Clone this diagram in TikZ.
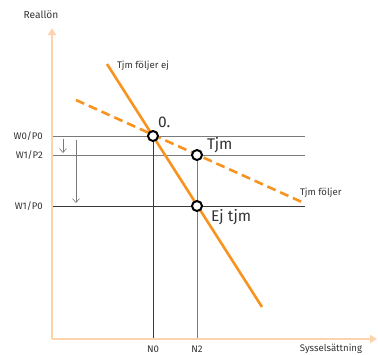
\documentclass[tikz,border=0pt]{standalone}
\usepackage{fontspec}
\setmainfont{Fira Sans}
\usetikzlibrary{arrows.meta}
\definecolor{cCurve}{HTML}{F7931E}
\definecolor{cAxis}{HTML}{FDD3AE}
\definecolor{cGrid}{HTML}{7A7A7A}
\definecolor{cDark}{HTML}{3A3A3A}
\definecolor{cText}{HTML}{333333}
\tikzset{
  axisarr/.style={draw=cAxis,line width=2pt,-{Triangle[length=7pt,width=8pt]}},
  gline/.style={draw=cGrid,line width=0.8pt},
  dline/.style={draw=cDark,line width=0.8pt},
  shiftarr/.style={draw=cGrid,line width=0.6pt,-{Straight Barb[length=4pt,width=7pt]}},
  curve/.style={draw=cCurve,line width=2.6pt},
  dcurve/.style={curve,dash pattern=on 9pt off 5pt},
  ptnode/.style={circle,draw=black,fill=white,line width=2pt,minimum size=10pt,inner sep=0pt},
  small/.style={font=\fontsize{9.6}{11}\selectfont,text=cText,inner sep=1pt},
  big/.style={font=\fontsize{15.5}{18}\selectfont,text=cText,inner sep=1pt}}
\begin{document}
\begin{tikzpicture}[x=1pt,y=-1pt]
\useasboundingbox (0,0) rectangle (378,354);
% axes
\coordinate (O) at (52,339);
\coordinate (ytop) at (52,28);
\coordinate (xend) at (377,339);
% levels
\coordinate (w0) at (52,136); \coordinate (w0e) at (305,136);
\coordinate (w2) at (52,155); \coordinate (w2e) at (305,155);
\coordinate (w1) at (52,206); \coordinate (w1e) at (305,206);
\coordinate (n0) at (153,339); \coordinate (n2) at (197,339);
% curves
\coordinate (dA) at (107,64); \coordinate (dB) at (262,307);
\coordinate (sA) at (76,100); \coordinate (sB) at (304,203);
\draw[gline] (w0)--(w0e);
\draw[gline] (w2)--(w2e);
\draw[dline] (w1)--(w1e);
\draw[dline] (153,136)--(n0);
\draw[gline] (197,155)--(n2);
\draw[shiftarr] (63,139)--(63,153);
\draw[shiftarr] (76,140)--(76,203);
\draw[axisarr] (O)--(ytop);
\draw[axisarr] (O)--(xend);
\draw[dcurve] (sA)--(sB);
\draw[curve] (dA)--(dB);
\node[ptnode] (p0) at (153,136) {};
\node[ptnode] (p2) at (197,155) {};
\node[ptnode] (p1) at (197,206) {};
% labels
\node[small,font=\fontsize{10.2}{12}\selectfont] (ylab) at (41,15) {Reallön};
\node[small] (xlab) at (331,349) {Sysselsättning};
\node[small,anchor=east] (lw0) at (44,136) {W0/P0};
\node[small,anchor=east] (lw2) at (44,155) {W1/P2};
\node[small,anchor=east] (lw1) at (44,206) {W1/P0};
\node[small] (ln0) at (153,349) {N0};
\node[small] (ln2) at (197,349) {N2};
\node[small,anchor=west] (ldem) at (116,66) {Tjm följer ej};
\node[small,anchor=west] (lsup) at (299,193) {Tjm följer};
\node[big,anchor=west] (l0) at (157,122) {0.};
\node[big,anchor=west] (ltjm) at (206,145) {Tjm};
\node[big,anchor=west] (lej) at (210,217) {Ej tjm};
\end{tikzpicture}
\end{document}
